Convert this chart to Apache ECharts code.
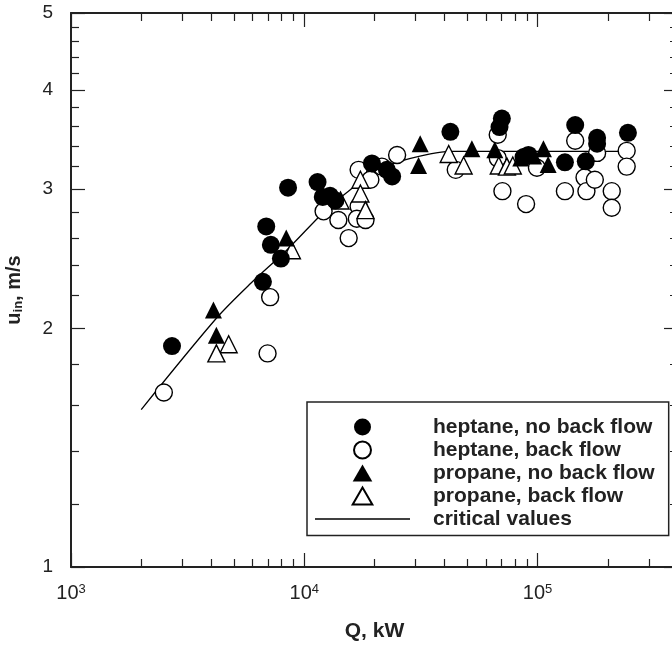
<!DOCTYPE html>
<html>
<head>
<meta charset="utf-8">
<script src="https://cdn.jsdelivr.net/npm/echarts@6/dist/echarts.min.js"></script>
<style>
  html, body { margin: 0; padding: 0; background: #fff; }
  #chart { width: 672px; height: 645px; }
</style>
</head>
<body>
<div id="chart"></div>
<script>
// heptane, no back flow (filled circles)
const hepNoBackQ = [2710, 6650, 7940, 7190, 6870, 8520, 11400, 12000, 12900, 13600, 19500, 22600, 23800, 42300, 70300, 68700, 91400, 87100, 131000, 145000, 161000, 180000, 180000, 244000];
const hepNoBackU = [1.90, 2.29, 2.45, 2.55, 2.69, 3.01, 3.06, 2.93, 2.94, 2.90, 3.23, 3.17, 3.11, 3.54, 3.68, 3.59, 3.31, 3.29, 3.24, 3.61, 3.25, 3.48, 3.42, 3.53];

// heptane, back flow (open circles)
const hepBackQ = [2500, 7140, 6960, 12100, 14000, 15500, 17100, 17100, 16800, 18300, 21500, 19200, 25000, 44600, 67500, 67500, 70700, 89300, 99400, 131000, 145000, 159000, 162000, 176000, 180000, 208000, 208000, 241000, 241000];
const hepBackU = [1.66, 2.19, 1.86, 2.81, 2.74, 2.60, 3.17, 2.85, 2.75, 2.74, 3.20, 3.08, 3.31, 3.17, 3.51, 3.28, 2.98, 2.87, 3.19, 2.98, 3.45, 3.10, 2.98, 3.08, 3.33, 2.98, 2.84, 3.35, 3.20];

// propane, no back flow (filled triangles)
const proNoBackQ = [4080, 4200, 8370, 31400, 30900, 52300, 65600, 84700, 96200, 106000, 111000];
const proNoBackU = [2.11, 1.96, 2.60, 3.42, 3.21, 3.37, 3.36, 3.28, 3.30, 3.37, 3.22];

// propane, back flow (open triangles)
const proBackQ = [4740, 4200, 8850, 14300, 17400, 17400, 18300, 41600, 48200, 68200, 73900, 78300];
const proBackU = [1.91, 1.86, 2.51, 2.90, 3.08, 2.96, 2.82, 3.32, 3.21, 3.21, 3.20, 3.21];

// critical values curve
const critQ = [2000, 4200, 5900, 8400, 12500, 15700, 19200, 25000, 34700, 42000, 250000];
const critU = [1.58, 2.06, 2.28, 2.51, 2.83, 2.99, 3.13, 3.24, 3.32, 3.345, 3.345];

// axis ticks
const xMajor = [1e3, 1e4, 1e5];
const xMinor = [2e3, 3e3, 4e3, 5e3, 6e3, 7e3, 8e3, 9e3, 2e4, 3e4, 4e4, 5e4, 6e4, 7e4, 8e4, 9e4, 2e5, 3e5];
const yMajor = [1, 2, 3, 4, 5];
const yMinor = [1.2, 1.4, 1.6, 1.8, 2.2, 2.4, 2.6, 2.8, 3.2, 3.4, 3.6, 3.8, 4.2, 4.4, 4.6, 4.8];

const names = ['heptane, no back flow', 'heptane, back flow', 'propane, no back flow', 'propane, back flow', 'critical values'];

function pairs(xs, ys) {
  return xs.map((x, i) => [x, ys[i]]);
}

const chart = echarts.init(document.getElementById('chart'));
const ink = '#222';
const font = 'Liberation Sans, Arial, sans-serif';
const triIcon = 'path://M10,0L20,17.3L0,17.3Z';
const lineIcon = 'path://M0,0L95,0L95,1.3L0,1.3Z';

function xAx(pos, ticks, len, main) {
  return {
    type: 'log', logBase: 10, position: pos, min: 1000, max: 400000,
    axisLine: { show: main, lineStyle: { color: ink, width: 2 } },
    axisTick: { show: true, inside: true, length: len, customValues: ticks, lineStyle: { color: ink, width: 1.2 } },
    axisLabel: { show: main && pos === 'bottom', customValues: xMajor, margin: 16,
      fontSize: 20, fontFamily: font, color: ink,
      formatter: v => '{b|10}{s|' + Math.round(Math.log10(v)) + '}',
      rich: { b: { fontSize: 20, lineHeight: 21, fontFamily: font, color: ink },
              s: { fontSize: 13, lineHeight: 13, fontFamily: font, color: ink, verticalAlign: 'top' } } },
    splitLine: { show: false }, minorTick: { show: false },
    name: main && pos === 'bottom' ? 'Q, kW' : '',
    nameLocation: 'middle', nameGap: 54,
    nameTextStyle: { fontSize: 21, fontWeight: 'bold', fontFamily: font, color: ink }
  };
}

function yAx(pos, ticks, len, main) {
  return {
    type: 'log', logBase: 10, position: pos, min: 1, max: 5,
    axisLine: { show: main, lineStyle: { color: ink, width: 2 } },
    axisTick: { show: true, inside: true, length: len, customValues: ticks, lineStyle: { color: ink, width: 1.2 } },
    axisLabel: { show: main && pos === 'left', customValues: yMajor, margin: 18,
      fontSize: 19, fontFamily: font, color: ink },
    splitLine: { show: false }, minorTick: { show: false },
    name: main && pos === 'left' ? '{b|u}{s|in}{b|, m/s}' : '',
    nameLocation: 'middle', nameRotate: 90, nameGap: 46,
    nameTextStyle: { fontFamily: font, color: ink,
      rich: { b: { fontSize: 20, fontWeight: 'bold', fontFamily: font, color: ink, lineHeight: 22 },
              s: { fontSize: 13, fontWeight: 'bold', fontFamily: font, color: ink, lineHeight: 13, verticalAlign: 'bottom' } } }
  };
}

const openStyle = { color: '#fff', borderColor: '#000', borderWidth: 1.4, opacity: 1 };
const fillStyle = { color: '#000', borderColor: '#000', borderWidth: 0, opacity: 1 };

const option = {
  animation: false,
  backgroundColor: '#fff',
  grid: { left: 71, top: 13, right: -6, bottom: 78, outerBoundsMode: 'none', containLabel: false },
  xAxis: [
    xAx('bottom', xMajor, 14, true),
    xAx('bottom', xMinor, 8, false),
    xAx('top', xMajor, 14, true),
    xAx('top', xMinor, 8, false)
  ],
  yAxis: [
    yAx('left', yMajor, 14, true),
    yAx('left', yMinor, 8, false),
    yAx('right', yMajor, 14, true),
    yAx('right', yMinor, 8, false)
  ],
  legend: {
    orient: 'vertical', left: 307, top: 402,
    padding: [14.5, 14, 6, 8],
    borderColor: ink, borderWidth: 1.5, backgroundColor: '#fff',
    itemWidth: 95, itemHeight: 17, itemGap: 2, symbolKeepAspect: true,
    data: [
      { name: names[0] },
      { name: names[1] },
      { name: names[2], icon: triIcon },
      { name: names[3], icon: triIcon },
      { name: names[4], icon: lineIcon }
    ],
    textStyle: { fontSize: 21, lineHeight: 21, fontWeight: 'bold', fontFamily: font, color: ink, padding: [0, 0, 0, 18] }
  },
  series: [
    { name: names[4], type: 'line', data: pairs(critQ, critU), smooth: 0.3, symbol: 'none', showSymbol: false,
      lineStyle: { color: '#000', width: 1.3 }, itemStyle: { color: '#000', borderWidth: 0 }, z: 1 },
    { name: names[1], type: 'scatter', data: pairs(hepBackQ, hepBackU), symbol: 'circle', symbolSize: 17, itemStyle: openStyle, z: 2 },
    { name: names[3], type: 'scatter', data: pairs(proBackQ, proBackU), symbol: 'triangle', symbolSize: 17, itemStyle: openStyle, z: 3 },
    { name: names[2], type: 'scatter', data: pairs(proNoBackQ, proNoBackU), symbol: 'triangle', symbolSize: 17, itemStyle: fillStyle, z: 4 },
    { name: names[0], type: 'scatter', data: pairs(hepNoBackQ, hepNoBackU), symbol: 'circle', symbolSize: 18, itemStyle: fillStyle, z: 5 }
  ]
};

chart.setOption(option);
</script>
</body>
</html>
